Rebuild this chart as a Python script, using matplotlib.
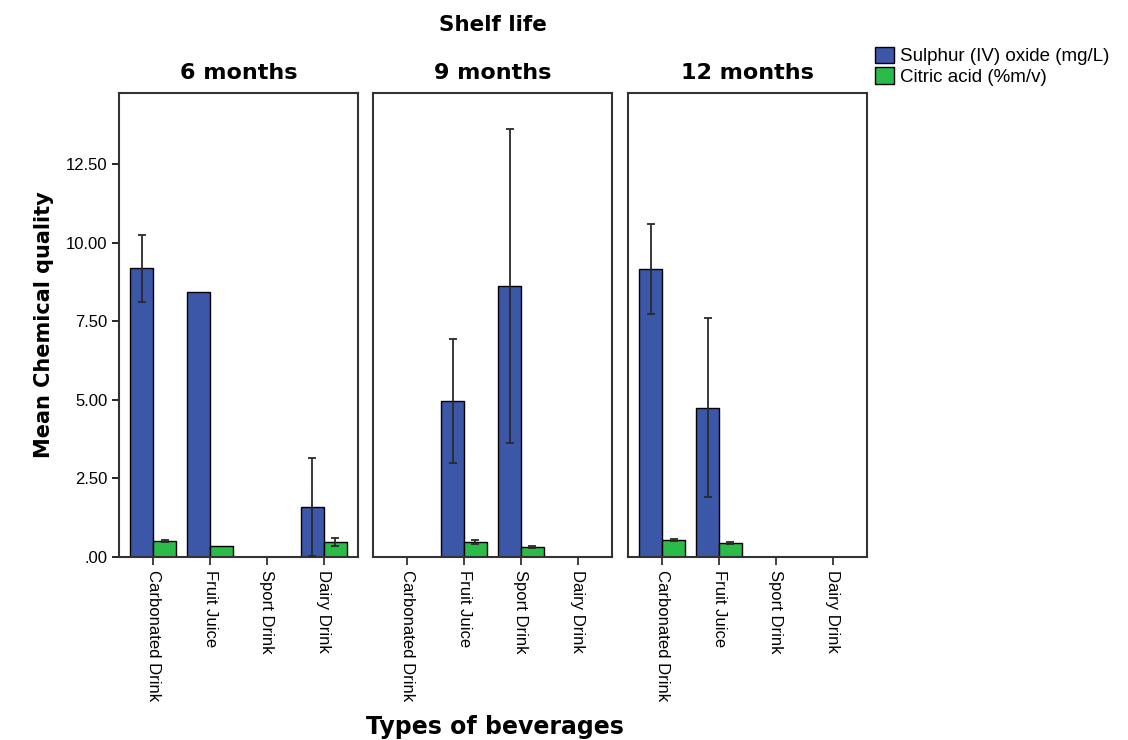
import numpy as np
import matplotlib.pyplot as plt

plt.rcParams['font.family'] = ['Liberation Sans', 'DejaVu Sans']

beverages = ['Carbonated Drink', 'Fruit Juice', 'Sport Drink', 'Dairy Drink']
shelf_life = ['6 months', '9 months', '12 months']

# mean values (nan = no samples for that beverage / period)
so2_mean = [
    [9.19, 8.43, np.nan, 1.59],
    [np.nan, 4.96, 8.62, np.nan],
    [9.16, 4.74, np.nan, np.nan],
]
so2_low = [
    [8.11, np.nan, np.nan, 0.03],
    [np.nan, 2.99, 3.63, np.nan],
    [7.73, 1.91, np.nan, np.nan],
]
so2_high = [
    [10.24, np.nan, np.nan, 3.15],
    [np.nan, 6.93, 13.61, np.nan],
    [10.59, 7.60, np.nan, np.nan],
]
citric_mean = [
    [0.51, 0.35, np.nan, 0.48],
    [np.nan, 0.48, 0.32, np.nan],
    [0.54, 0.45, np.nan, np.nan],
]
citric_err = [
    [0.03, np.nan, np.nan, 0.12],
    [np.nan, 0.06, 0.03, np.nan],
    [0.03, 0.04, np.nan, np.nan],
]

blue = '#3c56a8'
green = '#2cba48'
w = 0.4

fig = plt.figure(figsize=(11.28, 7.4), dpi=100)
lefts = [119, 373, 628]
axes = []
for i, lx in enumerate(lefts):
    ax = fig.add_axes([lx / 1128, 183 / 740, 239 / 1128, 464 / 740])
    axes.append(ax)
    x = np.arange(len(beverages))
    m = np.array(so2_mean[i])
    lo = np.array(so2_low[i])
    hi = np.array(so2_high[i])
    ok = ~np.isnan(m)
    ax.bar(x[ok] - w / 2, m[ok], w, color=blue, edgecolor='black', linewidth=1, zorder=2,
           label='Sulphur (IV) oxide (mg/L)')
    e = ~np.isnan(lo)
    ax.errorbar(x[e] - w / 2, m[e], yerr=[m[e] - lo[e], hi[e] - m[e]], fmt='none',
                ecolor='#2a2a2a', elinewidth=1.3, capsize=3, capthick=1.3, zorder=3)
    c = np.array(citric_mean[i])
    ce = np.array(citric_err[i])
    ok = ~np.isnan(c)
    ax.bar(x[ok] + w / 2, c[ok], w, color=green, edgecolor='black', linewidth=1, zorder=2,
           label='Citric acid (%m/v)')
    e = ~np.isnan(ce)
    ax.errorbar(x[e] + w / 2, c[e], yerr=ce[e], fmt='none',
                ecolor='#2a2a2a', elinewidth=1.3, capsize=3, capthick=1.3, zorder=3)

    ax.set_xlim(-0.6, 3.6)
    ax.set_ylim(0, 14.76)
    ax.set_xticks(x)
    ax.set_xticklabels(beverages, rotation=270, fontsize=12)
    ax.tick_params(axis='x', length=6, width=1.3, color='#333333')
    ax.set_title(shelf_life[i], fontsize=16, fontweight='bold', family='DejaVu Sans', pad=10)
    for s in ax.spines.values():
        s.set_linewidth(1.5)
        s.set_color('#333333')
    if i == 0:
        ax.set_yticks([0, 2.5, 5, 7.5, 10, 12.5])
        ax.set_yticklabels(['.00', '2.50', '5.00', '7.50', '10.00', '12.50'], fontsize=12)
        ax.tick_params(axis='y', length=5, width=1.2)
        ax.set_ylabel('Mean Chemical quality', fontsize=15, fontweight='bold',
                      family='DejaVu Sans', labelpad=8)
    else:
        ax.set_yticks([])

fig.text(493 / 1128, 1 - 25 / 740, 'Shelf life', ha='center', va='center',
         fontsize=15.5, fontweight='bold', family='DejaVu Sans')
fig.text(495 / 1128, 1 - 727 / 740, 'Types of beverages', ha='center', va='center',
         fontsize=17, fontweight='bold', family='DejaVu Sans')

handles, labels = axes[0].get_legend_handles_labels()
fig.legend(handles, labels, loc='upper left', bbox_to_anchor=(868 / 1128, 1 - 39 / 740),
           frameon=False, fontsize=13.5, handlelength=1.0, handleheight=1.0,
           handletextpad=0.3, labelspacing=0.1, borderaxespad=0)

fig.savefig('out.png', dpi=100)
